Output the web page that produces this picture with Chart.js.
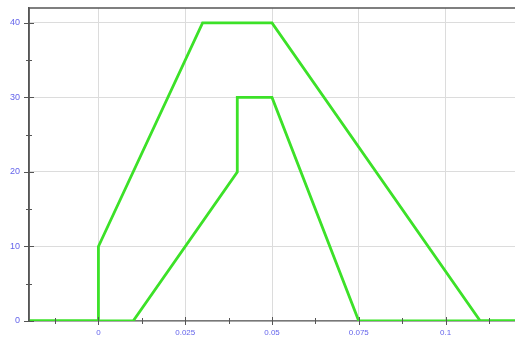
<!DOCTYPE html>
<html>
<head>
<meta charset="utf-8">
<script src="https://cdn.jsdelivr.net/npm/chart.js@4"></script>
<style>
  html, body { margin: 0; padding: 0; background: #fff; }
  #wrap { width: 515px; height: 338px; }
</style>
</head>
<body>
<div id="wrap"><canvas id="myChart"></canvas></div>
<script>
const outerX = [-0.02, 0, 0, 0.03, 0.05, 0.11, 0.12];
const outerY = [0, 0, 10, 40, 40, 0, 0];
const innerX = [-0.02, 0.01, 0.04, 0.04, 0.05, 0.075, 0.12];
const innerY = [0, 0, 20, 30, 30, 0, 0];
const xTicks = [0, 0.025, 0.05, 0.075, 0.1];
const yTicks = [0, 10, 20, 30, 40];
const xMinorStep = 0.0125;
const yMinorStep = 5;

const toPoints = (xs, ys) => xs.map((x, i) => ({ x: x, y: ys[i] }));

// axis frame + tick marks crossing the axes
const axisMarks = {
  id: 'axisMarks',
  afterDatasetsDraw(chart) {
    const { ctx, chartArea, scales } = chart;
    const xs = scales.x, ys = scales.y;
    ctx.save();
    ctx.strokeStyle = '#555';
    ctx.lineWidth = 1.5;
    ctx.beginPath();
    ctx.moveTo(chartArea.left, chartArea.top);
    ctx.lineTo(chartArea.right, chartArea.top);
    ctx.moveTo(chartArea.left, chartArea.top);
    ctx.lineTo(chartArea.left, chartArea.bottom);
    ctx.stroke();

    ctx.lineWidth = 1;
    ctx.beginPath();
    for (let v = Math.ceil(xs.min / xMinorStep) * xMinorStep; v <= xs.max + 1e-9; v += xMinorStep) {
      const px = Math.round(xs.getPixelForValue(v)) + 0.5;
      const major = xTicks.some(t => Math.abs(t - v) < 1e-9);
      const len = major ? 4 : 3;
      ctx.moveTo(px, chartArea.bottom - len);
      ctx.lineTo(px, chartArea.bottom + len);
    }
    for (let v = 0; v <= ys.max + 1e-9; v += yMinorStep) {
      const py = Math.round(ys.getPixelForValue(v)) + 0.5;
      const major = yTicks.includes(v);
      const len = major ? 5 : 3;
      ctx.moveTo(chartArea.left - len, py);
      ctx.lineTo(chartArea.left + len, py);
    }
    ctx.stroke();
    ctx.restore();
  }
};

const lineStyle = {
  borderColor: 'rgb(60, 225, 40)',
  borderWidth: 2.8,
  pointRadius: 0,
  fill: false,
  tension: 0
};

new Chart(document.getElementById('myChart').getContext('2d'), {
  type: 'scatter',
  data: {
    datasets: [
      Object.assign({ label: 'outer', data: toPoints(outerX, outerY), showLine: true }, lineStyle),
      Object.assign({ label: 'inner', data: toPoints(innerX, innerY), showLine: true }, lineStyle)
    ]
  },
  options: {
    responsive: true,
    maintainAspectRatio: false,
    animation: false,
    layout: { padding: { top: 8, right: 0, left: 0, bottom: 0 } },
    plugins: {
      legend: { display: false },
      tooltip: { enabled: false }
    },
    scales: {
      x: {
        type: 'linear',
        min: -0.02,
        max: 0.12,
        afterBuildTicks: (axis) => { axis.ticks = xTicks.map(v => ({ value: v })); },
        afterFit: (axis) => { axis.height = 17; axis.paddingRight = 0; },
        border: { display: true, color: '#777', width: 1.5 },
        grid: { color: '#dcdcdc', lineWidth: 1, drawTicks: false },
        ticks: {
          color: 'rgb(100, 100, 235)',
          font: { family: 'Liberation Sans', size: 8 },
          padding: 7,
          maxRotation: 0,
          callback: (v) => String(v)
        }
      },
      y: {
        type: 'linear',
        min: 0,
        max: 42,
        afterBuildTicks: (axis) => { axis.ticks = yTicks.map(v => ({ value: v })); },
        border: { display: true, color: '#555', width: 1.5 },
        grid: { color: '#dcdcdc', lineWidth: 1, drawTicks: false },
        afterFit: (axis) => { axis.width = 29; axis.paddingTop = 0; axis.paddingBottom = 0; },
        ticks: {
          color: 'rgb(100, 100, 235)',
          font: { family: 'Liberation Sans', size: 9 },
          padding: 9
        }
      }
    }
  },
  plugins: [axisMarks]
});
</script>
</body>
</html>
